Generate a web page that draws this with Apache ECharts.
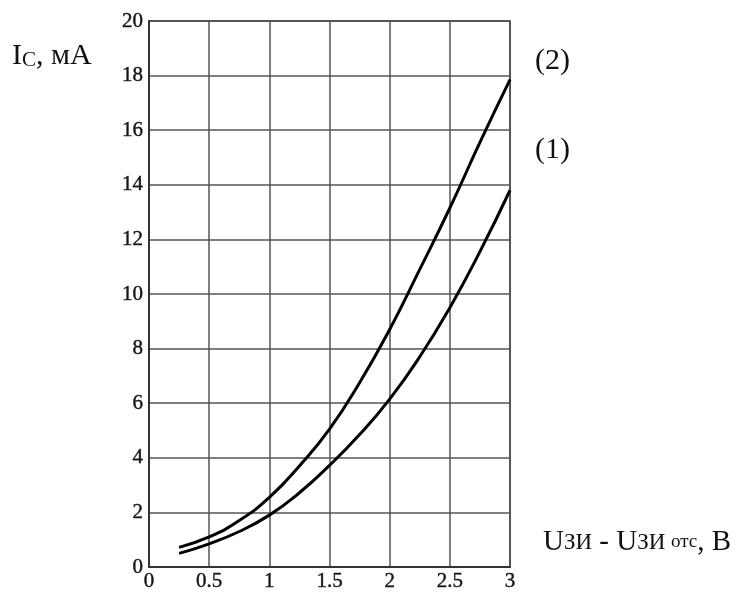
<!DOCTYPE html>
<html><head><meta charset="utf-8">
<script src="https://cdn.jsdelivr.net/npm/echarts@6/dist/echarts.min.js"></script>
<style>html,body{margin:0;padding:0;background:#fff}#c{width:739px;height:593px}</style>
</head><body><div id="c"></div>
<script>
const xValues = [0.25, 0.5, 0.75, 1, 1.25, 1.5, 1.75, 2, 2.25, 2.5, 2.75, 3];
const curve2 = [0.72, 1.1, 1.7, 2.55, 3.7, 5.05, 6.75, 8.7, 10.9, 13.15, 15.55, 17.85];
const curve1 = [0.5, 0.85, 1.3, 1.9, 2.72, 3.72, 4.85, 6.15, 7.7, 9.5, 11.55, 13.8];
const xTicks = [0, 0.5, 1, 1.5, 2, 2.5, 3];
const yTicks = [0, 2, 4, 6, 8, 10, 12, 14, 16, 18, 20];

const font = '"Liberation Serif", "Times New Roman", serif';
const chart = echarts.init(document.getElementById('c'));
const pair = (ys) => xValues.map((x, i) => [x, ys[i]]);
const lbl = {fontFamily: font, fontSize: 21, color: '#151515', textBorderColor: '#151515', textBorderWidth: 0.4};
chart.setOption({
  animation: false,
  grid: {left: 149, right: 229, top: 21, bottom: 26, show: true, borderColor: '#222', borderWidth: 1.5},
  xAxis: {
    type: 'value', min: 0, max: 3, interval: 0.5,
    axisLine: {show: true, lineStyle: {color: '#333', width: 2}},
    axisTick: {show: false},
    splitLine: {show: true, lineStyle: {color: '#555', width: 1.5}},
    axisLabel: Object.assign({margin: 4, formatter: v => xTicks.includes(v) ? String(v) : ''}, lbl)
  },
  yAxis: {
    type: 'value', min: 0, max: 20, interval: 2,
    axisLine: {show: true, lineStyle: {color: '#333', width: 2}},
    axisTick: {show: false},
    splitLine: {show: true, lineStyle: {color: '#555', width: 1.5}},
    axisLabel: Object.assign({margin: 6, formatter: v => yTicks.includes(v) ? String(v) : ''}, lbl)
  },
  series: [
    {type: 'line', data: pair(curve2), smooth: 0.5, symbol: 'none', lineStyle: {color: '#000', width: 3}},
    {type: 'line', data: pair(curve1), smooth: 0.5, symbol: 'none', lineStyle: {color: '#000', width: 3}}
  ],
  graphic: [
    {type: 'text', left: 12, top: 41, style: {
      text: '{a|I}{b|C}{a|, мА}', fontFamily: font, fontSize: 30, fill: '#111',
      rich: {a: {fontFamily: font, fontSize: 30, fill: '#111'}, b: {fontFamily: font, fontSize: 21, fill: '#111', verticalAlign: 'bottom'}}
    }},
    {type: 'text', left: 535, top: 46, style: {text: '(2)', fontFamily: font, fontSize: 30, fill: '#111'}},
    {type: 'text', left: 535, top: 135, style: {text: '(1)', fontFamily: font, fontSize: 30, fill: '#111'}},
    {type: 'text', left: 543, top: 528, style: {
      text: '{a|U}{b|ЗИ}{a| - U}{b|ЗИ }{c|отс}{a|, В}', fontFamily: font, fontSize: 29, fill: '#111',
      rich: {a: {fontFamily: font, fontSize: 29, fill: '#111'}, b: {fontFamily: font, fontSize: 23, fill: '#111'}, c: {fontFamily: font, fontSize: 19, fill: '#111'}}
    }}
  ]
});
</script></body></html>
